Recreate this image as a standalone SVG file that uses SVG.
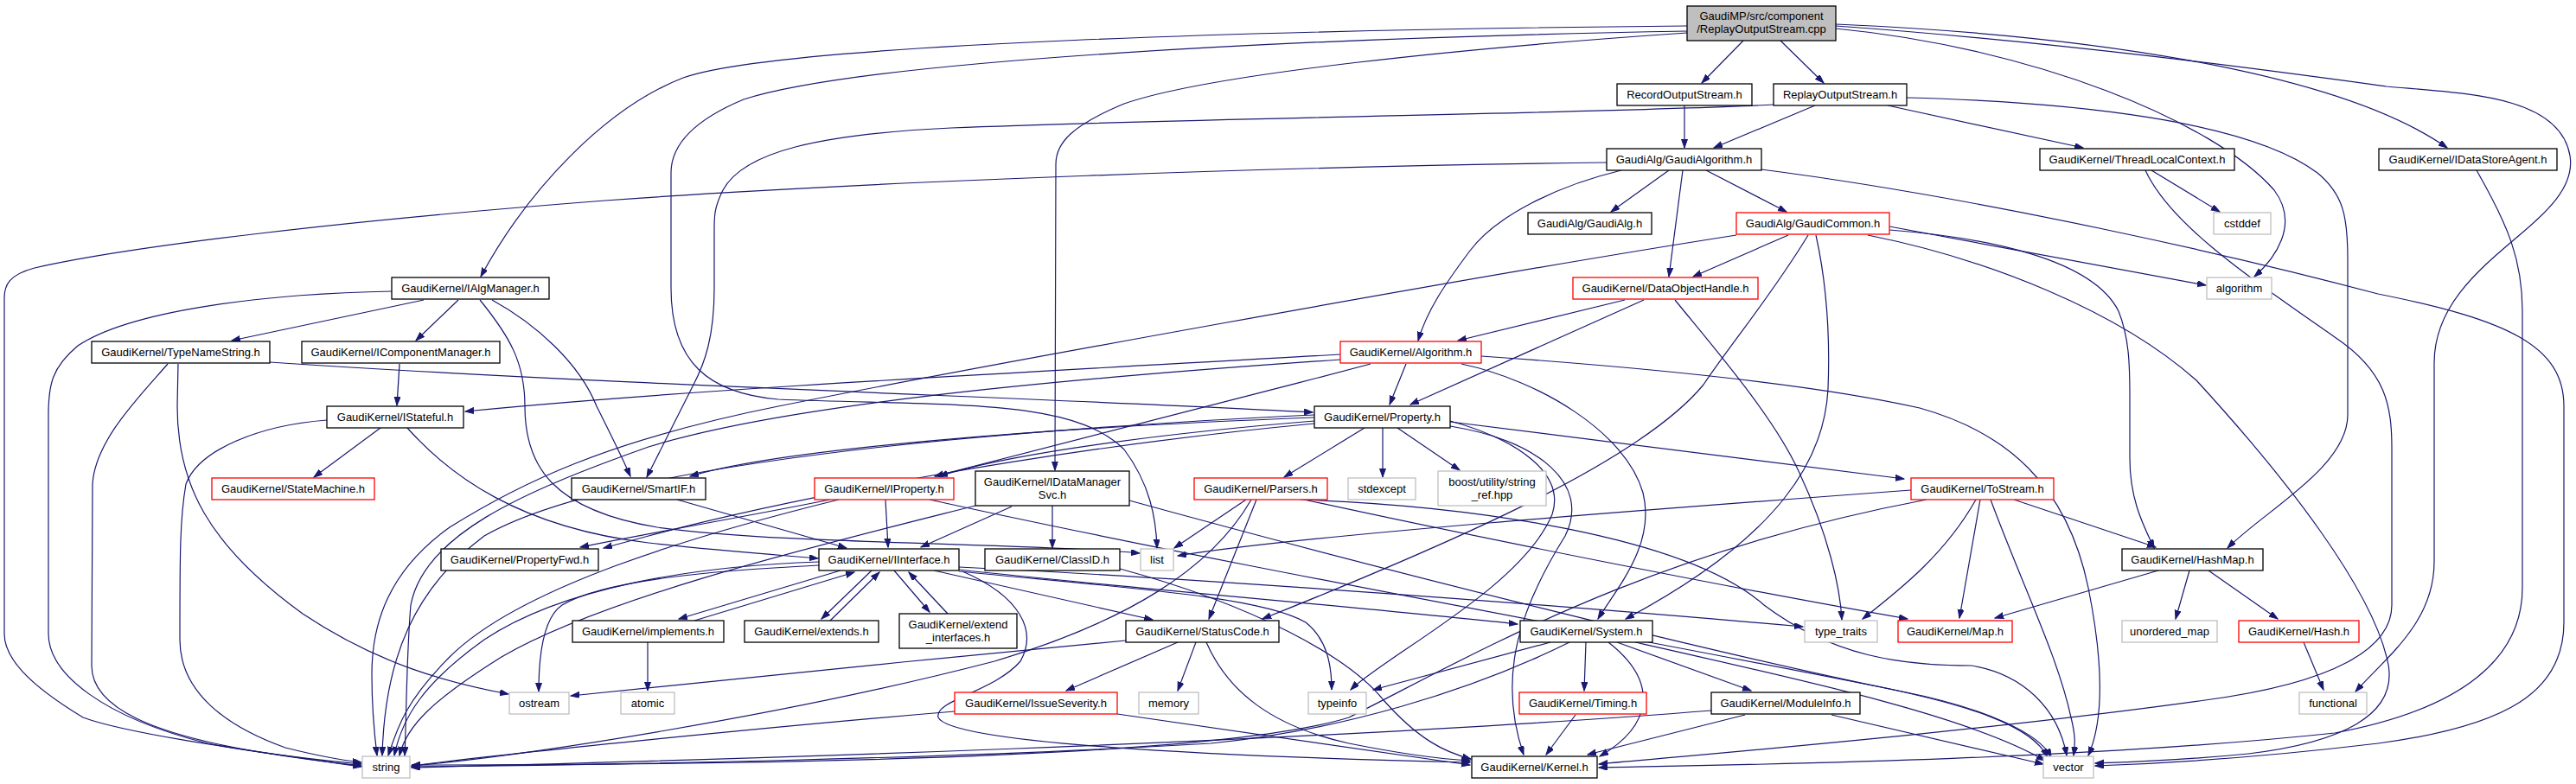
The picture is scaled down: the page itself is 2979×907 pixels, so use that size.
<svg xmlns="http://www.w3.org/2000/svg" width="2979" height="907" viewBox="0 0 2979 907">
<style>
rect{fill:#fff;stroke:#000;stroke-width:1.3}
.r rect{stroke:#ff0000}
.g rect{stroke:#bfbfbf}
.root rect{fill:#bfbfbf}
text{font-family:"Liberation Sans",Arial,Helvetica,sans-serif;font-size:13px;text-anchor:middle;fill:#000}
#edges path{fill:none;stroke:#191970;stroke-width:1.2;marker-end:url(#a)}
</style>
<defs>
<marker id="a" markerUnits="userSpaceOnUse" markerWidth="11" markerHeight="8" refX="10" refY="3.5" orient="auto">
<path d="M0,0 L10,3.5 L0,7 z" fill="#191970" stroke="#191970" stroke-width="1"/>
</marker>
</defs>
<rect x="0" y="0" width="2979" height="907" style="fill:#fff;stroke:none"/>
<g id="edges">
<path d="M2016,47 L1968,96"/>
<path d="M2059,47 L2109,96"/>
<path d="M1951,30 C1500,34 900,50 790,90 C700,125 610,220 556,320"/>
<path d="M1951,36 C1500,44 1000,70 860,115 C800,140 776,170 776,200 L776,333 C776,420 820,455 900,462 C1100,470 1240,460 1300,520 C1330,560 1337,600 1338,634"/>
<path d="M1951,38 C1700,55 1400,85 1300,120 C1240,145 1221,165 1221,190 L1220,544"/>
<path d="M2123,28 C2400,40 2700,80 2830,171"/>
<path d="M2123,33 C2350,55 2560,140 2630,220 C2660,260 2630,300 2607,320"/>
<path d="M2123,30 C2400,50 2650,85 2760,100 C2850,108 2960,110 2972,180 C2985,260 2815,300 2815,420 L2815,650 C2815,720 2760,760 2724,800"/>
<path d="M1948,122 L1948,171"/>
<path d="M2099,122 L1982,171"/>
<path d="M2051,121 C1900,130 1400,136 1100,148 C950,155 860,175 836,220 C826,240 826,250 826,265 L826,333 C826,390 815,420 802,445 L748,552"/>
<path d="M2183,122 L2409,171"/>
<path d="M2205,113 C2400,118 2600,140 2680,200 C2710,225 2715,250 2715,300 L2715,480 C2715,540 2620,590 2576,634"/>
<path d="M1858,188 C1500,192 1000,210 700,232 C400,255 150,285 40,310 C10,318 5,330 5,345 L5,733 C5,760 30,790 96,830 C150,850 300,870 418,887"/>
<path d="M1930,197 L1863,245"/>
<path d="M1946,197 L1930,320"/>
<path d="M1973,197 L2066,245"/>
<path d="M1875,197 C1800,215 1730,250 1700,290 C1670,330 1650,360 1640,394"/>
<path d="M2037,196 C2300,230 2600,300 2750,340 C2900,370 2965,400 2965,470 L2965,720 C2965,800 2900,840 2750,860 C2600,878 2480,884 2423,886"/>
<path d="M2068,272 L1958,320"/>
<path d="M2008,272 C1700,320 1100,430 900,470 C700,510 600,560 520,610 C450,660 430,720 430,780 C430,820 433,850 436,874"/>
<path d="M2091,272 C2050,340 2000,400 1970,445 C1900,530 1700,620 1460,716"/>
<path d="M2100,272 C2115,340 2116,400 2114,450 C2110,530 2060,620 1880,716"/>
<path d="M2185,266 C2300,275 2420,300 2450,360 C2462,390 2463,420 2463,460 L2463,530 C2463,580 2480,610 2491,634"/>
<path d="M2160,272 C2300,300 2450,360 2540,440 C2650,560 2740,680 2760,760 C2780,830 2700,860 2600,872 C2520,880 2450,882 2423,883"/>
<path d="M2185,262 L2551,330"/>
<path d="M1879,347 L1686,394"/>
<path d="M1901,347 L1631,468"/>
<path d="M1937,347 C1980,400 2050,480 2080,545 C2115,620 2128,680 2130,717"/>
<path d="M1626,421 L1607,468"/>
<path d="M1690,421 C1780,440 1880,500 1900,570 C1915,630 1870,680 1848,716"/>
<path d="M1713,412 C1900,425 2100,445 2220,472 C2320,500 2390,560 2415,680 C2435,780 2430,840 2415,874"/>
<path d="M1585,421 C1400,470 1200,520 1081,551"/>
<path d="M1550,410 C1200,430 800,450 538,476"/>
<path d="M1550,416 C1200,440 900,470 750,517 C600,570 490,620 475,700 C470,760 470,830 468,874"/>
<path d="M490,347 L268,394"/>
<path d="M530,347 L481,394"/>
<path d="M569,347 C620,375 670,420 690,470 C705,500 720,530 729,551"/>
<path d="M555,347 C590,390 607,420 607,470 C607,540 640,590 760,610 C900,630 1200,628 1318,640"/>
<path d="M453,337 C300,340 150,360 90,400 C60,425 56,445 56,480 L56,733 C56,780 120,830 240,860 C320,875 380,880 418,884"/>
<path d="M194,421 C160,460 110,510 107,560 L106,770 C106,820 180,850 300,870 C360,880 400,884 418,886"/>
<path d="M206,421 L205,470 C205,560 240,630 350,710 C440,770 520,790 588,803"/>
<path d="M312,419 C700,445 1200,460 1518,477"/>
<path d="M462,421 L459,469"/>
<path d="M440,495 L363,552"/>
<path d="M378,486 C300,492 230,520 215,560 C208,600 208,640 208,740 C208,800 260,840 330,865 C370,875 400,880 418,882"/>
<path d="M471,495 C520,550 600,610 750,628 C830,637 900,642 946,646"/>
<path d="M783,578 L979,634"/>
<path d="M1520,483 C1200,495 900,520 798,551"/>
<path d="M1520,487 C1300,505 1150,530 1086,551"/>
<path d="M1520,490 C1200,520 900,580 750,620 L698,634"/>
<path d="M1520,480 C1100,500 700,540 560,620 C480,680 445,760 442,874"/>
<path d="M1599,495 L1599,552"/>
<path d="M1616,495 L1688,544"/>
<path d="M1578,495 L1485,552"/>
<path d="M1677,488 L2202,554"/>
<path d="M1677,487 C1760,510 1810,550 1795,595 C1760,680 1600,760 1562,798"/>
<path d="M1677,493 C1780,510 1840,560 1810,620 C1760,700 1730,780 1762,873"/>
<path d="M1441,578 L1358,634"/>
<path d="M1453,578 L1398,716"/>
<path d="M1447,578 C1400,660 1300,720 1150,765 C900,830 600,875 476,886"/>
<path d="M1508,578 C1700,620 2000,680 2206,716"/>
<path d="M1504,578 C1700,585 1950,620 2040,700 C2120,760 2200,770 2280,770 C2340,780 2380,820 2390,874"/>
<path d="M2210,567 C1900,590 1500,620 1362,643"/>
<path d="M2285,578 C2250,640 2200,680 2154,716"/>
<path d="M2290,578 L2266,715"/>
<path d="M2302,578 C2340,680 2380,760 2395,830 C2400,850 2400,860 2398,874"/>
<path d="M2329,578 L2493,633"/>
<path d="M2228,578 C1900,640 1700,760 1560,830 C1400,880 800,885 476,885"/>
<path d="M2496,660 L2307,715"/>
<path d="M2532,660 L2516,716"/>
<path d="M2554,660 L2634,716"/>
<path d="M2664,743 L2687,798"/>
<path d="M972,660 L785,716"/>
<path d="M803,718 L988,662"/>
<path d="M1008,660 L950,716"/>
<path d="M960,718 L1017,662"/>
<path d="M1034,660 L1075,708"/>
<path d="M1096,710 L1051,662"/>
<path d="M1080,660 L1333,717"/>
<path d="M1109,659 C1300,680 1550,700 1755,722"/>
<path d="M1109,656 C1400,670 1800,700 2085,725"/>
<path d="M1109,661 C1300,680 1460,690 1510,720 C1535,740 1540,770 1540,798"/>
<path d="M1113,661 C1180,690 1200,730 1180,765 C1150,800 1080,810 1085,830 C1100,860 1400,875 1700,882"/>
<path d="M947,650 C800,655 650,680 560,740 C490,790 465,830 456,874"/>
<path d="M947,654 C830,660 700,670 650,700 C628,715 623,760 623,800"/>
<path d="M1302,741 C1100,760 800,790 660,805"/>
<path d="M1362,743 L1233,799"/>
<path d="M1383,743 L1362,799"/>
<path d="M1395,743 C1420,800 1470,840 1560,860 C1620,872 1660,878 1700,880"/>
<path d="M1104,823 C900,840 600,870 476,886"/>
<path d="M1292,826 C1450,850 1600,870 1700,885"/>
<path d="M1295,658 C1450,700 1560,760 1600,810 C1640,855 1670,870 1701,878"/>
<path d="M1793,743 L1588,798"/>
<path d="M1815,743 C1700,800 1550,845 1400,860 C1100,878 700,885 476,887"/>
<path d="M1834,743 L1832,799"/>
<path d="M1860,743 C1920,790 1910,840 1850,875"/>
<path d="M1870,743 L2025,799"/>
<path d="M1891,743 C2100,790 2280,830 2365,880"/>
<path d="M1822,827 L1788,873"/>
<path d="M2018,827 L1836,873"/>
<path d="M1979,822 C1500,860 800,880 476,888"/>
<path d="M2118,827 L2363,884"/>
<path d="M2488,197 L2567,245"/>
<path d="M2481,197 C2510,260 2600,320 2700,390 C2760,430 2766,470 2766,520 L2766,700 C2766,750 2700,790 2550,810 C2300,845 2000,870 1849,884"/>
<path d="M2864,197 C2900,260 2917,300 2917,360 L2917,680 C2917,760 2850,820 2700,848 C2400,880 2000,885 1849,888"/>
<path d="M1170,586 L1065,633"/>
<path d="M1217,585 L1217,634"/>
<path d="M1128,585 C950,630 700,690 580,760 C500,810 470,840 462,874"/>
<path d="M1306,579 C1600,660 2000,760 2200,800 C2300,820 2360,850 2372,876"/>
<path d="M1024,578 L1027,633"/>
<path d="M970,578 C800,620 600,680 520,760 C470,810 460,840 449,874"/>
<path d="M1075,578 C1400,650 1900,740 2150,790 C2280,815 2350,840 2368,876"/>
<path d="M960,578 C850,600 760,615 671,633"/>
<path d="M749,743 L749,799"/>
</g>
<g id="n_root" class="root"><rect x="1951" y="7" width="172" height="40"/><text x="2037" y="23">GaudiMP/src/component</text><text x="2037" y="38">/ReplayOutputStream.cpp</text></g>
<g id="n_record"><rect x="1870" y="97" width="156" height="25"/><text x="1948" y="114">RecordOutputStream.h</text></g>
<g id="n_replay"><rect x="2051" y="97" width="154" height="25"/><text x="2128" y="114">ReplayOutputStream.h</text></g>
<g id="n_gaudialgorithm"><rect x="1858" y="172" width="179" height="25"/><text x="1947.5" y="189">GaudiAlg/GaudiAlgorithm.h</text></g>
<g id="n_gaudialg"><rect x="1767" y="246" width="143" height="25"/><text x="1838.5" y="263">GaudiAlg/GaudiAlg.h</text></g>
<g id="n_gaudicommon" class="r"><rect x="2008" y="246" width="177" height="25"/><text x="2096.5" y="263">GaudiAlg/GaudiCommon.h</text></g>
<g id="n_dataobjecthandle" class="r"><rect x="1819" y="321" width="214" height="25"/><text x="1926" y="338">GaudiKernel/DataObjectHandle.h</text></g>
<g id="n_algorithm_h" class="r"><rect x="1550" y="395" width="163" height="25"/><text x="1631.5" y="412">GaudiKernel/Algorithm.h</text></g>
<g id="n_threadlocalcontext"><rect x="2359" y="172" width="225" height="25"/><text x="2471.5" y="189">GaudiKernel/ThreadLocalContext.h</text></g>
<g id="n_idatastoreagent"><rect x="2751" y="172" width="206" height="25"/><text x="2854" y="189">GaudiKernel/IDataStoreAgent.h</text></g>
<g id="n_cstddef" class="g"><rect x="2560" y="246" width="66" height="25"/><text x="2593" y="263">cstddef</text></g>
<g id="n_algorithm" class="g"><rect x="2552" y="321" width="75" height="25"/><text x="2589.5" y="338">algorithm</text></g>
<g id="n_ialgmanager"><rect x="453" y="321" width="182" height="25"/><text x="544" y="338">GaudiKernel/IAlgManager.h</text></g>
<g id="n_typenamestring"><rect x="106" y="395" width="206" height="25"/><text x="209" y="412">GaudiKernel/TypeNameString.h</text></g>
<g id="n_icomponentmanager"><rect x="349" y="395" width="229" height="25"/><text x="463.5" y="412">GaudiKernel/IComponentManager.h</text></g>
<g id="n_istateful"><rect x="378" y="470" width="158" height="25"/><text x="457" y="487">GaudiKernel/IStateful.h</text></g>
<g id="n_statemachine" class="r"><rect x="245" y="553" width="188" height="25"/><text x="339" y="570">GaudiKernel/StateMachine.h</text></g>
<g id="n_smartif"><rect x="661" y="553" width="155" height="25"/><text x="738.5" y="570">GaudiKernel/SmartIF.h</text></g>
<g id="n_iproperty" class="r"><rect x="942" y="553" width="161" height="25"/><text x="1022.5" y="570">GaudiKernel/IProperty.h</text></g>
<g id="n_idatamanagersvc"><rect x="1128" y="545" width="178" height="40"/><text x="1217" y="562">GaudiKernel/IDataManager</text><text x="1217" y="577">Svc.h</text></g>
<g id="n_parsers" class="r"><rect x="1381" y="553" width="154" height="25"/><text x="1458" y="570">GaudiKernel/Parsers.h</text></g>
<g id="n_property"><rect x="1520" y="470" width="157" height="25"/><text x="1598.5" y="487">GaudiKernel/Property.h</text></g>
<g id="n_stdexcept" class="g"><rect x="1559" y="553" width="78" height="25"/><text x="1598" y="570">stdexcept</text></g>
<g id="n_boost" class="g"><rect x="1663" y="545" width="125" height="40"/><text x="1725.5" y="562">boost/utility/string</text><text x="1725.5" y="577">_ref.hpp</text></g>
<g id="n_tostream" class="r"><rect x="2210" y="553" width="165" height="25"/><text x="2292.5" y="570">GaudiKernel/ToStream.h</text></g>
<g id="n_propertyfwd"><rect x="510" y="635" width="182" height="25"/><text x="601" y="652">GaudiKernel/PropertyFwd.h</text></g>
<g id="n_iinterface"><rect x="947" y="635" width="162" height="25"/><text x="1028" y="652">GaudiKernel/IInterface.h</text></g>
<g id="n_classid"><rect x="1139" y="635" width="156" height="25"/><text x="1217" y="652">GaudiKernel/ClassID.h</text></g>
<g id="n_list" class="g"><rect x="1319" y="635" width="38" height="25"/><text x="1338" y="652">list</text></g>
<g id="n_hashmap"><rect x="2454" y="635" width="163" height="25"/><text x="2535.5" y="652">GaudiKernel/HashMap.h</text></g>
<g id="n_implements"><rect x="662" y="718" width="175" height="25"/><text x="749.5" y="735">GaudiKernel/implements.h</text></g>
<g id="n_extends"><rect x="861" y="718" width="155" height="25"/><text x="938.5" y="735">GaudiKernel/extends.h</text></g>
<g id="n_extend_interfaces"><rect x="1040" y="710" width="136" height="40"/><text x="1108" y="727">GaudiKernel/extend</text><text x="1108" y="742">_interfaces.h</text></g>
<g id="n_statuscode"><rect x="1302" y="718" width="177" height="25"/><text x="1390.5" y="735">GaudiKernel/StatusCode.h</text></g>
<g id="n_system"><rect x="1758" y="718" width="153" height="25"/><text x="1834.5" y="735">GaudiKernel/System.h</text></g>
<g id="n_type_traits" class="g"><rect x="2087" y="718" width="84" height="25"/><text x="2129" y="735">type_traits</text></g>
<g id="n_map" class="r"><rect x="2195" y="718" width="132" height="25"/><text x="2261" y="735">GaudiKernel/Map.h</text></g>
<g id="n_unordered_map" class="g"><rect x="2454" y="718" width="110" height="25"/><text x="2509" y="735">unordered_map</text></g>
<g id="n_hash" class="r"><rect x="2589" y="718" width="139" height="25"/><text x="2658.5" y="735">GaudiKernel/Hash.h</text></g>
<g id="n_ostream" class="g"><rect x="589" y="801" width="69" height="25"/><text x="623.5" y="818">ostream</text></g>
<g id="n_atomic" class="g"><rect x="718" y="801" width="62" height="25"/><text x="749" y="818">atomic</text></g>
<g id="n_issueseverity" class="r"><rect x="1104" y="801" width="188" height="25"/><text x="1198" y="818">GaudiKernel/IssueSeverity.h</text></g>
<g id="n_memory" class="g"><rect x="1317" y="801" width="69" height="25"/><text x="1351.5" y="818">memory</text></g>
<g id="n_typeinfo" class="g"><rect x="1513" y="801" width="67" height="25"/><text x="1546.5" y="818">typeinfo</text></g>
<g id="n_timing" class="r"><rect x="1757" y="801" width="147" height="25"/><text x="1830.5" y="818">GaudiKernel/Timing.h</text></g>
<g id="n_moduleinfo"><rect x="1979" y="801" width="172" height="25"/><text x="2065" y="818">GaudiKernel/ModuleInfo.h</text></g>
<g id="n_functional" class="g"><rect x="2659" y="801" width="78" height="25"/><text x="2698" y="818">functional</text></g>
<g id="n_string" class="g"><rect x="419" y="875" width="55" height="25"/><text x="446.5" y="892">string</text></g>
<g id="n_kernel"><rect x="1702" y="875" width="145" height="25"/><text x="1774.5" y="892">GaudiKernel/Kernel.h</text></g>
<g id="n_vector" class="g"><rect x="2363" y="875" width="58" height="25"/><text x="2392" y="892">vector</text></g>
</svg>
